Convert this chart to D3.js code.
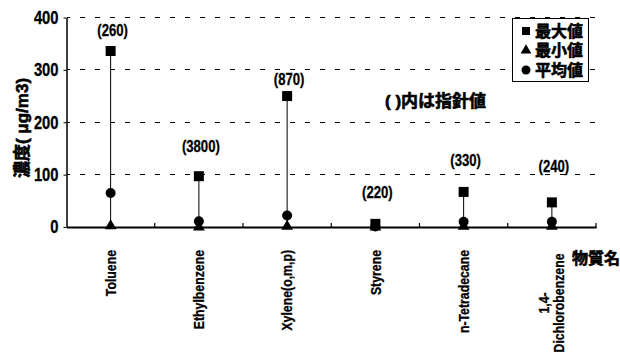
<!DOCTYPE html>
<html><head><meta charset="utf-8">
<script src="https://cdn.jsdelivr.net/npm/d3@7"></script>
<style>body{margin:0;background:#fff}svg{display:block}text{font-family:"Liberation Sans",Arial,"Noto Sans CJK JP",sans-serif;font-weight:bold;fill:#000;stroke:#000;stroke-width:0.3}
.jp{stroke:#000;stroke-width:0.6}</style>
</head><body><svg id="c" width="620" height="354"></svg>
<script>
const categories = ["Toluene","Ethylbenzene","Xylene(o,m,p)","Styrene","n-Tetradecane","1,4-\nDichlorobenzene"];
const maxValues = [336, 97, 250, 6, 67, 47];
const minValues = [2, 0, 1, 0, 1, 1];
const meanValues = [65, 11, 22, 1, 10, 10];
const guideLabels = ["(260)","(3800)","(870)","(220)","(330)","(240)"];
const guideLabelAt = [376, 153, 281, 67, 128, 116];
const yTicks = [0, 100, 200, 300, 400];
const legendLabels = ["最大値","最小値","平均値"];

const svg = d3.select("#c");
const L = 66.5, R = 596, T = 17.5, B = 227;
const NARROW = 0.82;
const x = d3.scaleBand().domain(categories).range([L, R]);
const y = d3.scaleLinear().domain([0, 400]).range([B, T]);

// grid
svg.append("g").selectAll("line").data(yTicks.filter(d => d > 0)).join("line")
  .attr("x1", L).attr("x2", R).attr("y1", d => y(d)).attr("y2", d => y(d))
  .attr("stroke", "#000").attr("stroke-width", 1).attr("stroke-dasharray", "5,10").attr("stroke-dashoffset", -13)
  .attr("shape-rendering", "crispEdges");

// y axis
const ya = svg.append("g").attr("transform", `translate(${L},0)`)
  .call(d3.axisLeft(y).tickValues(yTicks).tickSize(3).tickSizeOuter(0));
ya.select(".domain").attr("stroke", "#000").attr("stroke-width", 1.5);
ya.selectAll(".tick line").attr("stroke", "#000");
ya.selectAll(".tick text").attr("x", -8 / NARROW).attr("transform", `scale(${NARROW},1)`)
  .style("font-size", "18px").style("font-family", '"Liberation Sans",Arial,sans-serif').style("font-weight", "bold");

// x axis
const xa = svg.append("g").attr("transform", `translate(0,${B})`)
  .call(d3.axisBottom(x).tickSize(0).tickFormat(""));
xa.select(".domain").attr("stroke", "#000").attr("stroke-width", 1.8);
// boundary ticks
svg.append("g").selectAll("line").data(categories.slice(1).concat([null])).join("line")
  .attr("x1", (d, i) => i < categories.length - 1 ? x(d) : R)
  .attr("x2", (d, i) => i < categories.length - 1 ? x(d) : R)
  .attr("y1", B - 4).attr("y2", B + 1).attr("stroke", "#000").attr("stroke-width", 1.2);

// category labels
const cx = d => x(d) + x.bandwidth() / 2;
categories.forEach((c, i) => {
  const lines = c.split("\n");
  const g = svg.append("text")
    .attr("transform", `translate(${cx(c)},250) rotate(-90) scale(${NARROW},1)`)
    .attr("font-size", 15);
  if (lines.length === 1) {
    g.attr("text-anchor", "end").attr("dy", "0.35em").text(c);
  } else {
    g.attr("text-anchor", "middle");
    lines.forEach((ln, k) => g.append("tspan").attr("x", -53 / NARROW).attr("y", (k - 0.5) * 15 + 5).text(ln));
  }
});

// stems
svg.append("g").selectAll("line").data(categories).join("line")
  .attr("x1", d => cx(d)).attr("x2", d => cx(d))
  .attr("y1", (d, i) => y(minValues[i])).attr("y2", (d, i) => y(maxValues[i]))
  .attr("stroke", "#000").attr("stroke-width", 1);

const sym = (type, size) => d3.symbol().type(type).size(size)();
// max squares
svg.append("g").selectAll("path").data(categories).join("path")
  .attr("transform", (d, i) => `translate(${cx(d)},${y(maxValues[i])})`)
  .attr("d", sym(d3.symbolSquare, 100)).attr("fill", "#000");
// min triangles
svg.append("g").selectAll("path").data(categories).join("path")
  .attr("transform", (d, i) => `translate(${cx(d)},${y(minValues[i])})`)
  .attr("d", sym(d3.symbolTriangle, 60)).attr("fill", "#000");
// mean circles
svg.append("g").selectAll("circle").data(categories).join("circle")
  .attr("cx", d => cx(d)).attr("cy", (d, i) => y(meanValues[i])).attr("r", 5).attr("fill", "#000");

// guide labels
svg.append("g").selectAll("text").data(categories).join("text")
  .attr("transform", (d, i) => `translate(${cx(d) + 2},${y(guideLabelAt[i])}) scale(${NARROW},1)`)
  .attr("dy", "0.35em").attr("text-anchor", "middle").attr("font-size", 16)
  .text((d, i) => guideLabels[i]);

svg.append("text").attr("class", "jp").attr("x", 385).attr("y", 101).attr("dy", "0.35em").attr("font-size", 17)
  .attr("xml:space", "preserve").text("( )内は指針値");

// axis titles
svg.append("text").attr("class", "jp").attr("transform", "translate(22,128) rotate(-90)").attr("text-anchor", "middle")
  .attr("dy", "0.35em").attr("font-size", 17).text("濃度( μg/m3)");
svg.append("text").attr("class", "jp").attr("x", 572).attr("y", 258).attr("dy", "0.35em").attr("font-size", 16)
  .text("物質名");

// legend
const lg = svg.append("g");
lg.append("rect").attr("x", 512.5).attr("y", 18.5).attr("width", 76).attr("height", 63)
  .attr("fill", "#fff").attr("stroke", "#000").attr("stroke-width", 1);
const lt = [d3.symbolSquare, d3.symbolTriangle, d3.symbolCircle];
legendLabels.forEach((t, i) => {
  const yy = 31 + i * 19.5;
  lg.append("path").attr("transform", `translate(526,${yy})`).attr("d", sym(lt[i], i === 1 ? 50 : 64)).attr("fill", "#000");
  lg.append("text").attr("class", "jp").attr("x", 535).attr("y", yy).attr("dy", "0.35em").attr("font-size", 16)
    .text(t);
});
</script></body></html>
